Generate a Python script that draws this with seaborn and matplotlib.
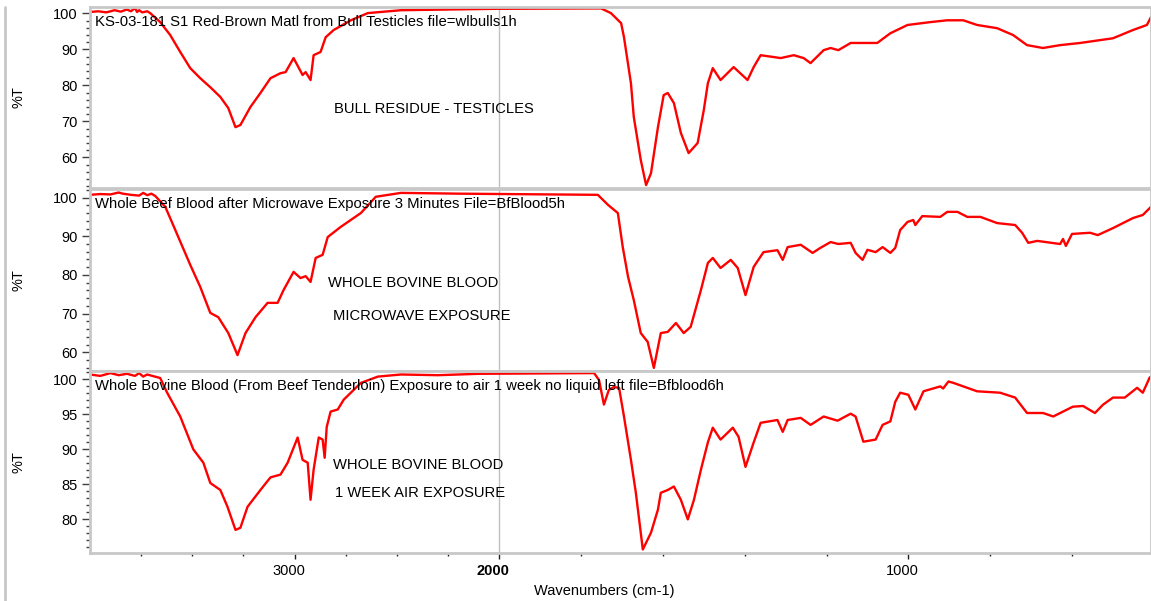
import seaborn as sns
import matplotlib.pyplot as plt
import matplotlib.lines as mlines
import matplotlib.transforms as mtrans
import numpy as np

# spectrum 1: bull residue
wn1 = [4000, 3960, 3920, 3880, 3850, 3820, 3800, 3780, 3770, 3760, 3745, 3720, 3706,
       3657, 3608, 3559, 3510, 3461, 3412, 3363, 3324, 3289, 3265, 3216, 3167, 3118,
       3069, 3044, 3005, 2961, 2946, 2922, 2907, 2873, 2848, 2809, 2725, 2642, 2480,
       2005, 1751, 1727, 1702, 1695, 1678, 1671, 1654, 1641, 1629, 1612, 1598, 1588,
       1573, 1556, 1537, 1515, 1500, 1490, 1478, 1459, 1427, 1393, 1378, 1361, 1312,
       1280, 1256, 1239, 1207, 1190, 1171, 1141, 1076, 1044, 1002, 946, 905, 866, 832,
       783, 744, 710, 671, 629, 580, 500, 451, 417, 407]
t1 = [100.4, 100.6, 100.3, 100.9, 100.5, 101.1, 100.6, 101.5, 100.4, 100.9, 100.3, 100.6, 100.1,
      97.6, 94.0, 89.3, 84.8, 82.0, 79.5, 76.8, 73.7, 68.4, 69.0, 74.0, 77.9, 82.0,
      83.4, 83.7, 87.6, 82.9, 83.7, 81.5, 88.4, 89.3, 93.4, 95.4, 98.1, 100.1, 100.9,
      101.3, 101.4, 100.1, 97.3, 93.4, 80.6, 71.2, 59.3, 52.3, 55.6, 68.4, 77.3, 77.9,
      75.1, 66.8, 61.2, 64.0, 73.1, 80.6, 84.8, 81.5, 85.1, 81.5, 85.1, 88.4, 87.6,
      88.4, 87.6, 86.2, 89.8, 90.4, 89.8, 91.8, 91.8, 94.5, 96.8, 97.6, 98.1, 98.1, 96.8,
      95.9, 94.0, 91.2, 90.4, 91.2, 91.8, 93.1, 95.4, 96.8, 99.0]

# spectrum 2: microwave exposure
wn2 = [4000, 3950, 3900, 3860, 3840, 3800, 3760, 3740, 3720, 3700, 3681, 3632, 3583,
       3510, 3461, 3412, 3373, 3324, 3279, 3240, 3191, 3132, 3083, 3054, 3005, 2971,
       2946, 2922, 2897, 2863, 2838, 2775, 2676, 2603, 2480, 2200, 1759, 1734, 1710,
       1698, 1685, 1671, 1654, 1637, 1622, 1605, 1588, 1568, 1549, 1532, 1507, 1490,
       1478, 1459, 1434, 1417, 1398, 1378, 1354, 1320, 1307, 1295, 1263, 1234, 1215,
       1190, 1171, 1141, 1129, 1112, 1100, 1080, 1063, 1044, 1032, 1020, 1002, 988, 983,
       966, 922, 905, 880, 856, 824, 783, 739, 722, 707, 685, 629, 622, 615, 600, 556,
       537, 500, 451, 427, 407]
t2 = [100.7, 100.9, 100.8, 101.3, 101.0, 100.7, 100.5, 101.2, 100.6, 101.0, 100.4, 97.6, 91.6,
      82.6, 76.9, 70.2, 69.1, 65.0, 59.3, 65.0, 69.1, 72.8, 72.8, 76.1, 80.8, 79.2,
      79.7, 78.2, 84.4, 85.2, 89.8, 92.4, 96.0, 100.2, 101.2, 101.0, 100.7, 98.1, 96.0,
      87.2, 79.5, 73.5, 65.0, 62.7, 56.0, 65.0, 65.3, 67.6, 65.0, 66.6, 76.1, 83.1,
      84.4, 81.8, 83.9, 81.8, 74.8, 82.1, 85.9, 86.4, 83.9, 87.2, 87.8, 85.7, 87.0,
      88.5, 88.0, 88.3, 85.7, 83.9, 86.5, 85.9, 87.2, 85.7, 87.0, 91.6, 93.7, 94.2, 92.9,
      95.2, 95.0, 96.3, 96.3, 95.0, 95.0, 93.4, 92.9, 90.9, 88.3, 88.8, 88.0, 89.3, 87.5, 90.6, 90.9,
      90.3, 92.1, 94.7, 95.5, 97.6]

# spectrum 3: 1 week air exposure
wn3 = [4000, 3950, 3900, 3860, 3820, 3780, 3760, 3740, 3721, 3657, 3623, 3559, 3495,
       3446, 3412, 3363, 3328, 3289, 3265, 3230, 3167, 3118, 3069, 3034, 2985, 2961,
       2936, 2922, 2907, 2882, 2863, 2853, 2843, 2824, 2789, 2760, 2676, 2593, 2480,
       2300, 2100, 1768, 1756, 1744, 1732, 1720, 1707, 1695, 1678, 1666, 1649, 1629,
       1612, 1605, 1588, 1573, 1556, 1539, 1524, 1507, 1490, 1478, 1459, 1429, 1415,
       1398, 1378, 1361, 1320, 1307, 1295, 1263, 1239, 1207, 1173, 1141, 1129, 1110,
       1080, 1063, 1044, 1032, 1020, 1000, 983, 963, 922, 915, 902, 890, 832, 776, 739,
       710, 671, 646, 622, 598, 573, 544, 524, 500, 471, 441, 427, 410]
t3 = [100.7, 100.5, 100.9, 100.6, 100.8, 100.5, 100.9, 100.4, 100.7, 100.2, 98.1, 94.7, 90.0,
      88.1, 85.2, 84.2, 81.8, 78.5, 78.8, 81.8, 84.2, 86.0, 86.4, 88.1, 91.7, 88.5,
      88.1, 82.8, 87.1, 91.7, 91.4, 88.8, 93.2, 95.4, 95.7, 97.1, 99.5, 100.4, 100.7,
      100.6, 100.8, 100.9, 99.9, 96.4, 98.5, 98.9, 98.8, 94.7, 88.5, 83.8, 75.7, 78.1,
      81.4, 83.8, 84.2, 84.7, 82.8, 80.0, 82.8, 87.1, 91.0, 93.1, 91.4, 93.1, 91.8,
      87.5, 91.0, 93.8, 94.2, 92.5, 94.2, 94.5, 93.5, 94.7, 94.1, 95.1, 94.7, 91.1,
      91.4, 93.5, 94.0, 96.8, 98.1, 97.8, 95.7, 98.3, 99.0, 98.7, 99.7, 99.5, 98.3, 98.1, 97.4,
      95.2, 95.2, 94.7, 95.4, 96.1, 96.2, 95.2, 96.4, 97.4, 97.4, 98.8, 98.1, 100.3]

titles = ["KS-03-181 S1 Red-Brown Matl from Bull Testicles file=wlbulls1h",
          "Whole Beef Blood after Microwave Exposure 3 Minutes File=BfBlood5h",
          "Whole Bovine Blood (From Beef Tenderloin) Exposure to air 1 week no liquid left file=Bfblood6h"]
notes = [["BULL RESIDUE - TESTICLES"],
         ["WHOLE BOVINE BLOOD", "MICROWAVE EXPOSURE"],
         ["WHOLE BOVINE BLOOD", "1 WEEK AIR EXPOSURE"]]
ylims = [(51.5, 101.8), (55.2, 102.2), (75.2, 101.2)]
yticks = [[60, 70, 80, 90, 100], [60, 70, 80, 90, 100], [80, 85, 90, 95, 100]]
yminor = [2, 2, 1]
xmajor = [3000, 2000, 1000]
xminor = [3750, 3500, 3250, 2750, 2500, 2250, 1800, 1600, 1400, 1200, 800, 600]


# IR style axis: above 2000 cm-1 is drawn at half scale
def fwd(w):
    w = np.asarray(w, dtype=float)
    return np.where(w > 2000, 2000 + (w - 2000) * 0.5, w)


def inv(u):
    u = np.asarray(u, dtype=float)
    return np.where(u > 2000, 2000 + (u - 2000) * 2.0, u)


sns.set_style("white")
plt.rcParams['font.family'] = ['Liberation Sans', 'DejaVu Sans']
plt.rcParams['text.color'] = 'black'
plt.rcParams['xtick.color'] = 'black'
plt.rcParams['ytick.color'] = 'black'

fig = plt.figure(figsize=(11.51, 6.01), dpi=100)
grey = '#c8c8c8'
boxes = [(0.0782, 0.6872, 0.9218, 0.3012),
         (0.0782, 0.3827, 0.9218, 0.3028),
         (0.0782, 0.0799, 0.9218, 0.3028)]
note_pos = [[(0.230, 0.4365)],
            [(0.2243, 0.484), (0.229, 0.302)],
            [(0.229, 0.484), (0.231, 0.33)]]
data = [(wn1, t1), (wn2, t2), (wn3, t3)]

for i, box in enumerate(boxes):
    ax = fig.add_axes(box)
    ax.set_xscale('function', functions=(fwd, inv))
    ax.axvline(2000, color='#c0c0c0', lw=1, zorder=0)
    sns.lineplot(x=data[i][0], y=data[i][1], ax=ax, color='red', lw=1.7,
                 sort=False, estimator=None)
    ax.set_xlim(4000, 407)
    ax.set_ylim(*ylims[i])
    ax.set_yticks(yticks[i])
    ax.set_yticks(np.arange(ylims[i][0] // yminor[i] * yminor[i] + yminor[i],
                            ylims[i][1], yminor[i]), minor=True)
    ax.tick_params(axis='y', which='major', length=6, width=1, color='#404040',
                   labelsize=10.5, pad=3, left=True)
    ax.tick_params(axis='y', which='minor', length=3, width=1, color='#404040', left=True)
    for s in ax.spines.values():
        s.set_color(grey)
        s.set_linewidth(2)
    ax.set_ylabel('')
    ax.text(-0.067, 0.5, '%T', transform=ax.transAxes, fontsize=10.5,
            rotation=90, ha='center', va='center')
    ax.set_xlabel('')
    ax.text(0.0047, 0.917, titles[i], transform=ax.transAxes, fontsize=10.7,
            va='center', ha='left')
    for txt, (px, py) in zip(notes[i], note_pos[i]):
        ax.text(px, py, txt, transform=ax.transAxes, fontsize=10.6,
                va='center', ha='left')
    if i < 2:
        ax.set_xticks([])
        ax.set_xticks([], minor=True)
    else:
        ax.set_xticks(xmajor)
        ax.set_xticklabels([str(v) for v in xmajor])
        ax.set_xticks(xminor, minor=True)
        ax.tick_params(axis='x', which='major', length=4.5, width=1, color='#202020',
                       labelsize=10.5, pad=3.5, bottom=True)
        ax.tick_params(axis='x', which='minor', length=2.5, width=1, color='#202020',
                       bottom=True)
        shift = mtrans.ScaledTranslation(-0.06, 0, fig.dpi_scale_trans)
        for lab in ax.get_xticklabels():
            lab.set_transform(lab.get_transform() + shift)
            if lab.get_text() == '2000':
                lab.set_fontweight('bold')

fig.text(0.525, 0.016, 'Wavenumbers (cm-1)', fontsize=10.5, ha='center', va='center')
fig.add_artist(mlines.Line2D([0.0045, 0.0045], [0.0, 0.989], color=grey, lw=2))

plt.savefig('out.png', dpi=100)
